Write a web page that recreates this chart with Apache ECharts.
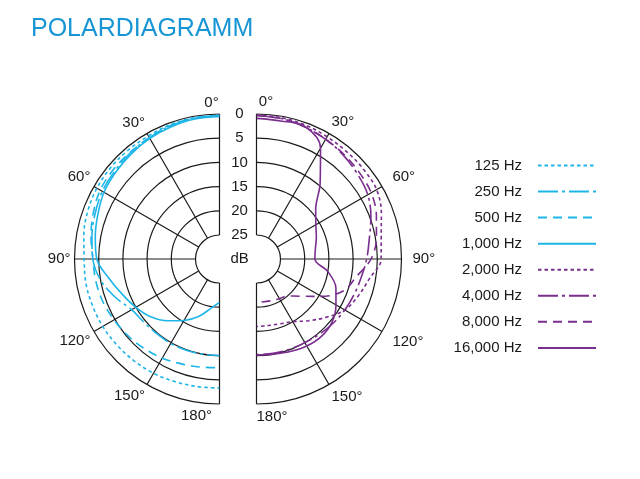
<!DOCTYPE html>
<html><head><meta charset="utf-8">
<script src="https://cdn.jsdelivr.net/npm/echarts@6/dist/echarts.min.js"></script>
<style>html,body{margin:0;padding:0;background:#fff}#c{width:640px;height:479px}</style>
</head><body><div id="c"></div>
<script>
const titleText = 'POLARDIAGRAMM';
const angleTickInterval = 30;
const dbTicks = [0,5,10,15,20,25];
const angles = [0,10,20,30,40,50,60,70,80,90,100,110,120,130,140,150,160,170,180];
const lowNames = ['125 Hz','250 Hz','500 Hz','1,000 Hz'];
const highNames = ['2,000 Hz','4,000 Hz','8,000 Hz','16,000 Hz'];
const hz125   = [0.3,0.3,0.4,0.6,0.6,0.6,0.7,1.0,1.5,2.0,1.9,2.0,2.1,2.3,2.5,2.7,3.0,3.2,3.3];
const hz250   = [0.3,0.4,0.6,1.0,1.3,1.7,2.0,2.6,3.2,3.8,5.0,7.0,9.0,9.6,9.8,9.8,9.9,10.0,10.0];
const hz500   = [0.3,0.4,0.6,1.0,1.2,1.3,1.5,2.2,3.0,3.8,4.0,4.3,4.8,5.3,5.8,6.3,6.9,7.3,7.5];
const hz1000  = [0.5,0.6,0.9,1.2,1.6,2.0,2.4,3.2,3.9,4.6,6.8,8.6,10.0,11.4,13.3,15.3,17.3,19.6,21.0];
const hz2000  = [0.2,0.3,0.5,0.8,1.0,1.1,1.3,2.5,3.8,4.2,6.3,7.6,8.9,11.2,13.3,15.0,15.7,16.0,16.0];
const hz4000  = [0.3,0.5,0.9,1.4,2.0,2.7,3.4,4.8,6.3,7.2,8.0,8.5,8.9,9.3,9.7,10.0,10.1,10.2,10.2];
const hz8000  = [0.3,0.5,0.9,1.4,1.8,2.2,2.6,3.6,4.8,6.3,9.0,10.8,14.5,18.0,20.0,20.5,20.8,21.0,21.0];
const hz16000 = [0.9,1.0,0.8,3.5,9.5,14.0,15.8,16.8,17.6,17.9,15.0,12.5,11.0,9.6,9.1,9.2,9.6,10.0,10.1];

const CYAN = '#1db5e8', PURPLE = '#7a2e8e', GRID = '#1a1a1a', TXT = '#1a1a1a';
const FONT = 'Liberation Sans, Arial, sans-serif';
const dashes = [[3.5,3],[20,4,3,4],[9,6],'solid'];
const lowData = [hz125,hz250,hz500,hz1000];
const highData = [hz2000,hz4000,hz8000,hz16000];

function pairs(vals){ return vals.map((v,i)=>[v, angles[i]]); }

function ringSeries(polarIndex, clockwise){
  return {
    type:'custom', coordinateSystem:'polar', polarIndex: polarIndex, silent:true, z:1, clip:false,
    data: dbTicks.map(v => [v, 0]),
    renderItem: function(params, api){
      const cs = params.coordSys;
      const p = api.coord([api.value(0), 0]);
      const r = Math.hypot(p[0]-cs.cx, p[1]-cs.cy);
      return {type:'arc', shape:{cx:cs.cx, cy:cs.cy, r:r, startAngle:-Math.PI/2, endAngle:Math.PI/2, clockwise:clockwise},
        style:{stroke:GRID, lineWidth:1.2, fill:null}};
    }
  };
}

const series = [ringSeries(0,false), ringSeries(1,true)];
lowData.forEach((d,i)=>series.push({
  name: lowNames[i], type:'line', coordinateSystem:'polar', polarIndex:0,
  data: pairs(d), symbol:'none', smooth:0.35, clip:false,
  lineStyle:{color:CYAN, width:1.6, type:dashes[i]}, itemStyle:{color:CYAN}, z:5
}));
highData.forEach((d,i)=>series.push({
  name: highNames[i], type:'line', coordinateSystem:'polar', polarIndex:1,
  data: pairs(d), symbol:'none', smooth:0.35, clip:false,
  lineStyle:{color:PURPLE, width:1.6, type:dashes[i]}, itemStyle:{color:PURPLE}, z:5
}));

const labelBase = {fontSize:15, color:TXT, fontFamily:FONT};
function angleFmt(side){
  return function(v){
    if (v === 0) return '{' + side + '0|' + v + '°}';
    if (v === 180) return '{' + side + '1|' + v + '°}';
    if (side === 'R' && (v === 60 || v === 90 || v === 120)) return '{Rm|' + v + '°}';
    return v + '°';
  };
}
function angleAxis(idx, side){
  const left = side === 'L';
  return {
    polarIndex: idx, type:'value', min:0, max:180, interval:angleTickInterval,
    startAngle:90, endAngle: left ? 270 : -90, clockwise: !left,
    axisLine:{show:false},
    axisTick:{show:false},
    splitLine:{show:true, lineStyle:{color:GRID, width:1.2}},
    axisLabel:{show:true, margin:left ? 4 : 5, formatter: angleFmt(side), ...labelBase,
      rich: left ? {L0:{...labelBase, padding:[0,16,0,0]}, L1:{...labelBase, padding:[0,46,0,0]}}
                 : {R0:{...labelBase, padding:[0,0,0,19]}, R1:{...labelBase, padding:[0,0,0,31]},
                    Rm:{...labelBase, padding:[0,0,0,6]}}}
  };
}
function radiusAxis(idx, showLabels){
  return {
    polarIndex: idx, type:'value', min:0, max:25, interval:5, inverse:true,
    axisLine:{show:false}, axisTick:{show:false},
    splitLine:{show:false},
    axisLabel:{show:showLabels, margin:2, ...labelBase, formatter: v => '{c|' + v + '}',
      rich:{c:{...labelBase, width:30, align:'center'}}}
  };
}

const chart = echarts.init(document.getElementById('c'), null, {renderer:'canvas'});
chart.setOption({
  animation:false,
  backgroundColor:'#ffffff',
  title:{text:titleText, left:31, top:17, padding:0,
    textStyle:{color:'#1795d4', fontSize:25, fontWeight:'normal', fontFamily:FONT}},
  legend:{orient:'vertical', right:43, top:158, padding:0, align:'right',
    itemWidth:58, itemHeight:14, itemGap:11.06,
    itemStyle:{opacity:0},
    data: lowNames.concat(highNames),
    textStyle:{...labelBase, padding:[0,11,0,0]}},
  polar:[{center:[219.5,259], radius:[24,145]},{center:[256.5,259], radius:[24,145]}],
  angleAxis:[angleAxis(0,'L'), angleAxis(1,'R')],
  radiusAxis:[radiusAxis(0,false), radiusAxis(1,true)],
  graphic:[{type:'text', x:239.7, y:259, style:{text:'dB', fontSize:15, fill:TXT, font:'15px ' + FONT, align:'center', verticalAlign:'middle'}}],
  series: series
});
</script></body></html>
